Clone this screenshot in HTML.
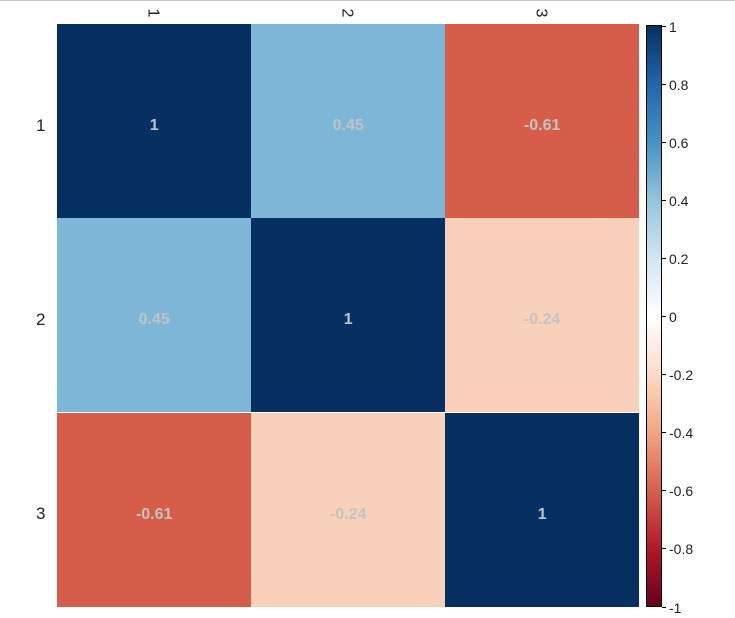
<!DOCTYPE html>
<html><head><style>
body{margin:0;width:735px;height:618px;background:#fff;font-family:"Liberation Sans",sans-serif;position:relative;overflow:hidden}
.top{position:absolute;left:0;top:0;width:735px;height:1px;background:#c8c8c8}
.c{position:absolute;width:194.4px;height:194.4px;display:flex;align-items:center;justify-content:center;font-weight:bold;font-size:16px;color:#c3c3c3;padding-top:10px;box-sizing:border-box}
.yl{position:absolute;left:36px;font-size:17px;color:#222}
.xl{position:absolute;top:4px;font-size:16px;color:#222;transform:rotate(90deg)}
.tk{position:absolute;left:662px;width:4px;height:1px;background:#000}
.tl{position:absolute;left:669px;font-size:14px;color:#222;line-height:14px}
</style></head><body>
<div class="top"></div>
<div class="c" style="left:57px;top:24px;background:#053061">1</div>
<div class="c" style="left:251px;top:24px;background:#7db6d7">0.45</div>
<div class="c" style="left:445px;top:24px;background:#d55d4a">-0.61</div>
<div class="c" style="left:57px;top:218px;background:#7db6d7">0.45</div>
<div class="c" style="left:251px;top:218px;background:#053061">1</div>
<div class="c" style="left:445px;top:218px;background:#f9d0b9">-0.24</div>
<div class="c" style="left:57px;top:413px;background:#d55d4a">-0.61</div>
<div class="c" style="left:251px;top:413px;background:#f9d0b9">-0.24</div>
<div class="c" style="left:445px;top:413px;background:#053061">1</div>
<div class="yl" style="top:116px">1</div>
<div class="yl" style="top:310px">2</div>
<div class="yl" style="top:504px">3</div>
<div class="xl" style="left:148px">1</div>
<div class="xl" style="left:342px">2</div>
<div class="xl" style="left:536px">3</div>
<div style="position:absolute;left:646px;top:25px;width:14px;height:580px;border:1px solid #000;background:linear-gradient(to bottom,#053061 0%,#2166ac 10%,#4393c3 20%,#92c5de 30%,#d1e5f0 40%,#ffffff 50%,#fddbc7 60%,#f4a582 70%,#d6604d 80%,#b2182b 90%,#67001f 100%)"></div>
<div id="ticks"></div>
<script>
var v=["1","0.8","0.6","0.4","0.2","0","-0.2","-0.4","-0.6","-0.8","-1"],h="";
for(var i=0;i<11;i++){var y=25.5+i*58.1;h+='<div class="tk" style="top:'+y+'px"></div><div class="tl" style="top:'+(y-6)+'px">'+v[i]+'</div>';}
document.getElementById("ticks").innerHTML=h;
</script>
</body></html>
